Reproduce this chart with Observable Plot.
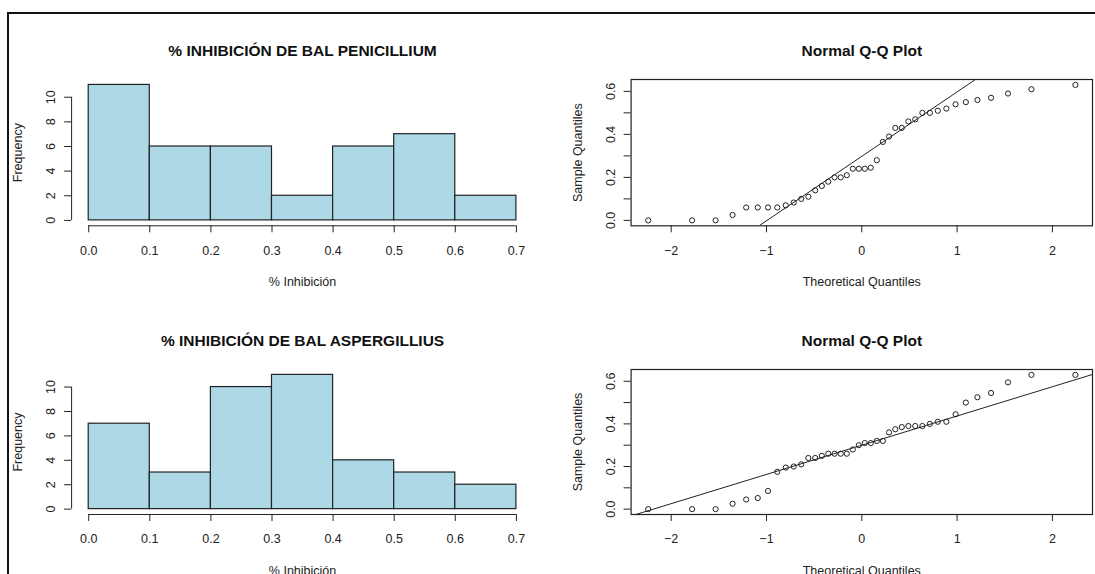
<!DOCTYPE html>
<html><head><meta charset="utf-8">
<script src="https://cdn.jsdelivr.net/npm/d3@7"></script>
<script src="https://cdn.jsdelivr.net/npm/@observablehq/plot@0.6"></script>
<style>
body{margin:0;background:#fff;}
#page{position:relative;width:1095px;height:574px;overflow:hidden;background:#fff;font-family:"Liberation Sans",Arial,sans-serif;}
#border{position:absolute;left:7px;top:12px;right:-5px;bottom:-5px;border-top:2px solid #111;border-left:2px solid #111;}
.panel{position:absolute;}
</style></head><body><div id="page"><div id="border"></div></div>
<script>
// ---- data ----
const breaks = [0, 0.1, 0.2, 0.3, 0.4, 0.5, 0.6, 0.7];
const penicilliumCounts = [11, 6, 6, 2, 6, 7, 2];
const aspergilliusCounts = [7, 3, 10, 11, 4, 3, 2];
const penicilliumSample = [0, 0, 0, 0.025, 0.06, 0.06, 0.06, 0.06, 0.07, 0.083, 0.10, 0.11, 0.14, 0.16, 0.18, 0.20, 0.20, 0.21, 0.24, 0.24, 0.24, 0.245, 0.28, 0.365, 0.39, 0.43, 0.43, 0.46, 0.47, 0.50, 0.50, 0.51, 0.52, 0.54, 0.55, 0.56, 0.57, 0.59, 0.61, 0.63];
const aspergilliusSample = [0, 0, 0, 0.025, 0.045, 0.052, 0.085, 0.175, 0.195, 0.20, 0.21, 0.24, 0.24, 0.25, 0.26, 0.26, 0.26, 0.26, 0.28, 0.30, 0.31, 0.31, 0.32, 0.32, 0.36, 0.375, 0.385, 0.39, 0.39, 0.39, 0.40, 0.41, 0.41, 0.445, 0.50, 0.525, 0.545, 0.595, 0.63, 0.63];
const histTitles = ["% INHIBICIÓN DE BAL PENICILLIUM", "% INHIBICIÓN DE BAL ASPERGILLIUS"];
const qqTitle = "Normal Q-Q Plot";
const histXLabel = "% Inhibición";
const histYLabel = "Frequency";
const qqXLabel = "Theoretical Quantiles";
const qqYLabel = "Sample Quantiles";
const histXTicks = [0, 0.1, 0.2, 0.3, 0.4, 0.5, 0.6, 0.7];
const histYTicks = [0, 2, 4, 6, 8, 10];
const qqXTicks = [-2, -1, 0, 1, 2];
const qqYTicks = [0, 0.1, 0.2, 0.3, 0.4, 0.5, 0.6];
const qqYLabelTicks = [0, 0.2, 0.4, 0.6];

// inverse normal CDF (Acklam)
function qnorm(p) {
  const a=[-3.969683028665376e+01,2.209460984245205e+02,-2.759285104469687e+02,1.383577518672690e+02,-3.066479806614716e+01,2.506628277459239e+00];
  const b=[-5.447609879822406e+01,1.615858368580409e+02,-1.556989798598866e+02,6.680131188771972e+01,-1.328068155288572e+01];
  const c=[-7.784894002430293e-03,-3.223964580411365e-01,-2.400758277161838e+00,-2.549671010115381e+00,4.374664141464968e+00,2.938163982698783e+00];
  const d=[7.784695709041462e-03,3.224671290700398e-01,2.445134137142996e+00,3.754408661907416e+00];
  const pl=0.02425, ph=1-pl; let q, r;
  if (p < pl) { q=Math.sqrt(-2*Math.log(p)); return (((((c[0]*q+c[1])*q+c[2])*q+c[3])*q+c[4])*q+c[5])/((((d[0]*q+d[1])*q+d[2])*q+d[3])*q+1); }
  if (p > ph) { q=Math.sqrt(-2*Math.log(1-p)); return -(((((c[0]*q+c[1])*q+c[2])*q+c[3])*q+c[4])*q+c[5])/((((d[0]*q+d[1])*q+d[2])*q+d[3])*q+1); }
  q=p-0.5; r=q*q;
  return (((((a[0]*r+a[1])*r+a[2])*r+a[3])*r+a[4])*r+a[5])*q/(((((b[0]*r+b[1])*r+b[2])*r+b[3])*r+b[4])*r+1);
}

const FONT = "'Liberation Sans', Arial, sans-serif";
const INK = "#222";
const AX = 12.5;
const baseStyle = {fontFamily: FONT, fontSize: AX + "px", color: INK, background: "transparent", overflow: "visible"};

function histogram(title, counts, rowH, mTop, mBottom) {
  const bins = counts.map((n, i) => ({x1: breaks[i], x2: breaks[i + 1], n}));
  const ymax = d3.max(counts);
  const xr = breaks[breaks.length - 1] - breaks[0];
  const xd = [breaks[0] - 0.04 * xr, breaks[breaks.length - 1] + 0.04 * xr];
  const yd = [-0.04 * ymax, ymax * 1.04];
  return Plot.plot({
    width: 547, height: rowH,
    marginLeft: 71.1, marginRight: 14, marginTop: mTop, marginBottom: mBottom,
    style: baseStyle,
    x: {domain: xd},
    y: {domain: yd},
    marks: [
      Plot.rect(bins, {x1: "x1", x2: "x2", y1: 0, y2: "n", fill: "#ADD8E6", stroke: INK, strokeWidth: 1.2}),
      Plot.ruleY([yd[0]], {x1: histXTicks[0], x2: histXTicks[histXTicks.length - 1], stroke: INK}),
      Plot.ruleX([xd[0]], {y1: histYTicks[0], y2: histYTicks[histYTicks.length - 1], stroke: INK}),
      Plot.axisX(histXTicks, {tickSize: 7, tickPadding: 13, tickFormat: d3.format(".1f"), fontSize: AX,
        label: histXLabel, labelAnchor: "center", labelOffset: 60, labelArrow: "none"}),
      Plot.axisY(histYTicks, {tickSize: 7, tickPadding: 9.5, tickRotate: -90, fontSize: AX,
        label: histYLabel, labelAnchor: "center", labelOffset: 58, labelArrow: "none"}),
      Plot.text([title], {text: d => d, frameAnchor: "top", dy: -34.5, fontSize: 15.5, fontWeight: "bold", fill: "#111"})
    ]
  });
}

function qqplot(sample, rowH, mTop, mBottom) {
  const n = sample.length;
  const pts = sample.map((v, i) => ({q: qnorm((i + 0.5) / n), v}));
  const xe = d3.extent(pts, d => d.q), xr = xe[1] - xe[0];
  const ye = d3.extent(sample), yr = ye[1] - ye[0];
  const xd = [xe[0] - 0.04 * xr, xe[1] + 0.04 * xr];
  const yd = [ye[0] - 0.04 * yr, ye[1] + 0.04 * yr];
  const q1 = d3.quantile(sample, 0.25), q3 = d3.quantile(sample, 0.75);
  const z1 = qnorm(0.25), z3 = qnorm(0.75);
  const slope = (q3 - q1) / (z3 - z1), intercept = q1 - slope * z1;
  const lineData = xd.map(x => ({x, y: intercept + slope * x}));
  const fmt = d => qqYLabelTicks.some(t => Math.abs(t - d) < 1e-9) ? d.toFixed(1) : "";
  return Plot.plot({
    width: 548, height: rowH,
    marginLeft: 83.6, marginRight: 3, marginTop: mTop, marginBottom: mBottom,
    style: baseStyle,
    x: {domain: xd},
    y: {domain: yd},
    marks: [
      Plot.line(lineData, {x: "x", y: "y", stroke: INK, strokeWidth: 1, clip: true}),
      Plot.dot(pts, {x: "q", y: "v", r: 2.6, stroke: INK, strokeWidth: 1, fill: "none"}),
      Plot.frame({stroke: INK, strokeWidth: 1.2}),
      Plot.axisX(qqXTicks, {tickSize: 7, tickPadding: 13, fontSize: AX,
        label: qqXLabel, labelAnchor: "center", labelOffset: 60, labelArrow: "none"}),
      Plot.axisY(qqYTicks, {tickSize: 7, tickPadding: 9.5, tickRotate: -90, tickFormat: fmt, fontSize: AX,
        label: qqYLabel, labelAnchor: "center", labelOffset: 58, labelArrow: "none"}),
      Plot.text([qqTitle], {text: d => d, frameAnchor: "top", dy: -34.5, fontSize: 15.5, fontWeight: "bold", fill: "#111"})
    ]
  });
}

const page = document.getElementById("page");
function place(svg, left, top) {
  const wrap = document.createElement("div");
  wrap.className = "panel";
  wrap.style.left = left + "px";
  wrap.style.top = top + "px";
  wrap.appendChild(svg);
  page.appendChild(wrap);
}
place(histogram(histTitles[0], penicilliumCounts, 300, 79, 74.7), 0, 0);
place(qqplot(penicilliumSample, 300, 79, 74.7), 547, 0);
place(histogram(histTitles[1], aspergilliusCounts, 285, 80, 60), 0, 289);
place(qqplot(aspergilliusSample, 285, 80, 60), 547, 289);
</script></body></html>
